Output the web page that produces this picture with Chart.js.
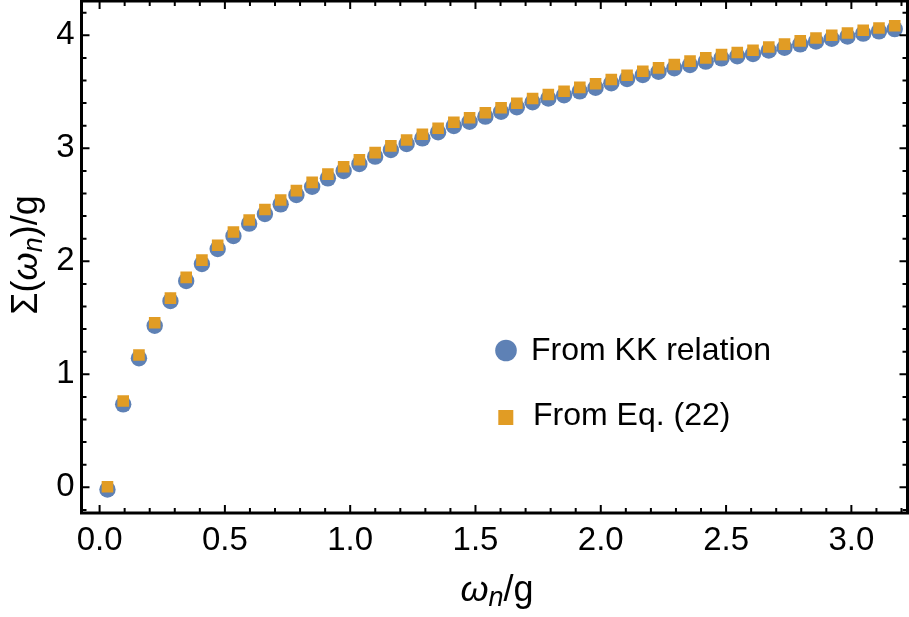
<!DOCTYPE html>
<html>
<head>
<meta charset="utf-8">
<script src="https://cdn.jsdelivr.net/npm/chart.js@4.4.1/dist/chart.umd.min.js"></script>
<style>
  html, body { margin: 0; padding: 0; background: #fff; }
  #wrap { width: 909px; height: 617px; }
</style>
</head>
<body>
<div id="wrap"><canvas id="sigma-chart" width="909" height="617"></canvas></div>
<script>
// Matsubara frequencies omega_n / g (x positions of the points)
const omegaN = [
  0.0314, 0.0942, 0.1571, 0.2199, 0.2827, 0.3456, 0.4084, 0.4712, 0.5341, 0.5969,
  0.6597, 0.7226, 0.7854, 0.8482, 0.9111, 0.9739, 1.0367, 1.0996, 1.1624, 1.2252,
  1.2881, 1.3509, 1.4137, 1.4765, 1.5394, 1.6022, 1.6650, 1.7279, 1.7907, 1.8535,
  1.9164, 1.9792, 2.0420, 2.1049, 2.1677, 2.2305, 2.2934, 2.3562, 2.4190, 2.4819,
  2.5447, 2.6075, 2.6704, 2.7332, 2.7960, 2.8588, 2.9217, 2.9845, 3.0473, 3.1102,
  3.1730
];

// Sigma(omega_n)/g from the KK relation (blue circles)
const sigmaKK = [
  -0.020, 0.734, 1.142, 1.430, 1.649, 1.826, 1.976, 2.109, 2.224, 2.333,
  2.419, 2.504, 2.587, 2.660, 2.734, 2.799, 2.861, 2.926, 2.985, 3.038,
  3.088, 3.142, 3.197, 3.235, 3.280, 3.324, 3.363, 3.407, 3.440, 3.470,
  3.504, 3.536, 3.575, 3.613, 3.649, 3.678, 3.708, 3.737, 3.767, 3.796,
  3.815, 3.835, 3.865, 3.890, 3.920, 3.945, 3.970, 3.990, 4.015, 4.035,
  4.055
];

// Sigma(omega_n)/g from Eq. (22) (orange squares)
const sigmaEq22 = [
  0.005, 0.764, 1.171, 1.456, 1.674, 1.858, 2.010, 2.142, 2.259, 2.366,
  2.458, 2.542, 2.625, 2.698, 2.771, 2.836, 2.898, 2.962, 3.021, 3.074,
  3.124, 3.177, 3.231, 3.270, 3.315, 3.359, 3.398, 3.441, 3.476, 3.505,
  3.539, 3.571, 3.609, 3.647, 3.682, 3.712, 3.742, 3.771, 3.800, 3.829,
  3.848, 3.868, 3.897, 3.922, 3.951, 3.976, 4.000, 4.020, 4.045, 4.065,
  4.085
];

const seriesNames = ['From KK relation', 'From Eq. (22)'];
const xTickValues = [0, 0.5, 1, 1.5, 2, 2.5, 3];
const yTickValues = [0, 1, 2, 3, 4];

const blue = '#5E81B5';
const orange = '#E19C24';
const fontFamily = '"Liberation Sans", Arial, Helvetica, sans-serif';

function toPoints(xs, ys) {
  return xs.map((x, i) => ({ x: x, y: ys[i] }));
}

// the plot box is fixed, so drop the extra room chart.js keeps for edge labels
function noEdgePadding(scale) {
  scale.paddingTop = 0;
  scale.paddingBottom = 0;
  scale.paddingLeft = 0;
  scale.paddingRight = 0;
}

// inward frame ticks on all four sides, like a Mathematica frame
const frameTicks = {
  id: 'frameTicks',
  afterDatasetsDraw(chart) {
    const ctx = chart.ctx;
    const a = chart.chartArea;
    const xs = chart.scales.x;
    const ys = chart.scales.y;
    ctx.save();
    ctx.strokeStyle = '#000';
    ctx.lineWidth = 2;
    for (let i = 0; i <= 32; i++) {
      const px = xs.getPixelForValue(i / 10);
      if (px < a.left || px > a.right) continue;
      const len = i % 5 === 0 ? 8 : 5;
      ctx.beginPath();
      ctx.moveTo(px, a.bottom); ctx.lineTo(px, a.bottom - len);
      ctx.moveTo(px, a.top); ctx.lineTo(px, a.top + len);
      ctx.stroke();
    }
    for (let i = -1; i <= 21; i++) {
      const py = ys.getPixelForValue(i / 5);
      if (py < a.top || py > a.bottom) continue;
      const len = i % 5 === 0 ? 8 : 5;
      ctx.beginPath();
      ctx.moveTo(a.left, py); ctx.lineTo(a.left + len, py);
      ctx.moveTo(a.right, py); ctx.lineTo(a.right - len, py);
      ctx.stroke();
    }
    ctx.lineWidth = 3;
    ctx.strokeRect(a.left, a.top, a.right - a.left, a.bottom - a.top);
    ctx.restore();
  }
};

// axis titles with italic omega and subscript n
const titleSize = 36;
function partFont(p) {
  const size = p.sub ? Math.round(titleSize * 0.74) : titleSize;
  return (p.italic ? 'italic ' : '') + size + 'px ' + fontFamily;
}
function drawRich(ctx, parts, cx, baseline) {
  let w = 0;
  parts.forEach(p => { ctx.font = partFont(p); w += ctx.measureText(p.t).width; });
  let x = cx - w / 2;
  parts.forEach(p => {
    ctx.font = partFont(p);
    ctx.fillText(p.t, x, baseline + (p.sub ? 5 : 0));
    x += ctx.measureText(p.t).width;
  });
}

const axisTitles = {
  id: 'axisTitles',
  afterDraw(chart) {
    const ctx = chart.ctx;
    ctx.save();
    ctx.fillStyle = '#000';
    ctx.textBaseline = 'alphabetic';
    ctx.textAlign = 'left';
    drawRich(ctx, [
      { t: 'ω', italic: true },
      { t: 'n', italic: true, sub: true },
      { t: '/g' }
    ], 497, 601);
    ctx.translate(37, 255);
    ctx.rotate(-Math.PI / 2);
    drawRich(ctx, [
      { t: 'Σ(' },
      { t: 'ω', italic: true },
      { t: 'n', italic: true, sub: true },
      { t: ')/g' }
    ], 0, 0);
    ctx.restore();
  }
};

// legend inside the plot
const innerLegend = {
  id: 'innerLegend',
  afterDraw(chart) {
    const ctx = chart.ctx;
    ctx.save();
    ctx.fillStyle = blue;
    ctx.beginPath();
    ctx.arc(506, 350.5, 10.8, 0, Math.PI * 2);
    ctx.fill();
    ctx.fillStyle = orange;
    ctx.fillRect(498.3, 410, 15, 15);
    ctx.fillStyle = '#000';
    ctx.font = '32px ' + fontFamily;
    ctx.textBaseline = 'alphabetic';
    ctx.textAlign = 'left';
    ctx.fillText(seriesNames[0], 531, 360);
    ctx.fillText(seriesNames[1], 533, 425);
    ctx.restore();
  }
};

const ctx = document.getElementById('sigma-chart').getContext('2d');
const sigmaChart = new Chart(ctx, {
  type: 'scatter',
  data: {
    datasets: [{
      label: seriesNames[0],
      data: toPoints(omegaN, sigmaKK),
      pointStyle: 'circle',
      pointRadius: 8.2,
      pointBorderWidth: 0,
      backgroundColor: blue,
      borderColor: blue,
      order: 2
    }, {
      label: seriesNames[1],
      data: toPoints(omegaN, sigmaEq22),
      pointStyle: 'rect',
      pointRadius: 8.2,
      pointBorderWidth: 0,
      backgroundColor: orange,
      borderColor: orange,
      order: 1
    }]
  },
  options: {
    responsive: false,
    animation: false,
    devicePixelRatio: 1,
    layout: {
      autoPadding: false,
      padding: { top: 1, right: 1.5, left: 0, bottom: 0 }
    },
    plugins: {
      legend: { display: false },
      tooltip: { enabled: false }
    },
    scales: {
      x: {
        type: 'linear',
        min: -0.0722,
        max: 3.224,
        afterFit: scale => { scale.height = 104; noEdgePadding(scale); },
        afterBuildTicks: scale => { scale.ticks = xTickValues.map(v => ({ value: v })); },
        grid: { display: false, drawTicks: false },
        border: { display: false },
        ticks: {
          color: '#000',
          font: { size: 33, family: fontFamily },
          padding: 8,
          maxRotation: 0,
          autoSkip: false,
          callback: v => Number(v).toFixed(1)
        }
      },
      y: {
        type: 'linear',
        min: -0.2275,
        max: 4.3035,
        afterFit: scale => { scale.width = 81.5; noEdgePadding(scale); },
        afterBuildTicks: scale => { scale.ticks = yTickValues.map(v => ({ value: v })); },
        grid: { display: false, drawTicks: false },
        border: { display: false },
        ticks: {
          color: '#000',
          font: { size: 33, family: fontFamily },
          padding: 7,
          autoSkip: false,
          callback: v => String(v)
        }
      }
    }
  },
  plugins: [frameTicks, axisTitles, innerLegend]
});
</script>
</body>
</html>
